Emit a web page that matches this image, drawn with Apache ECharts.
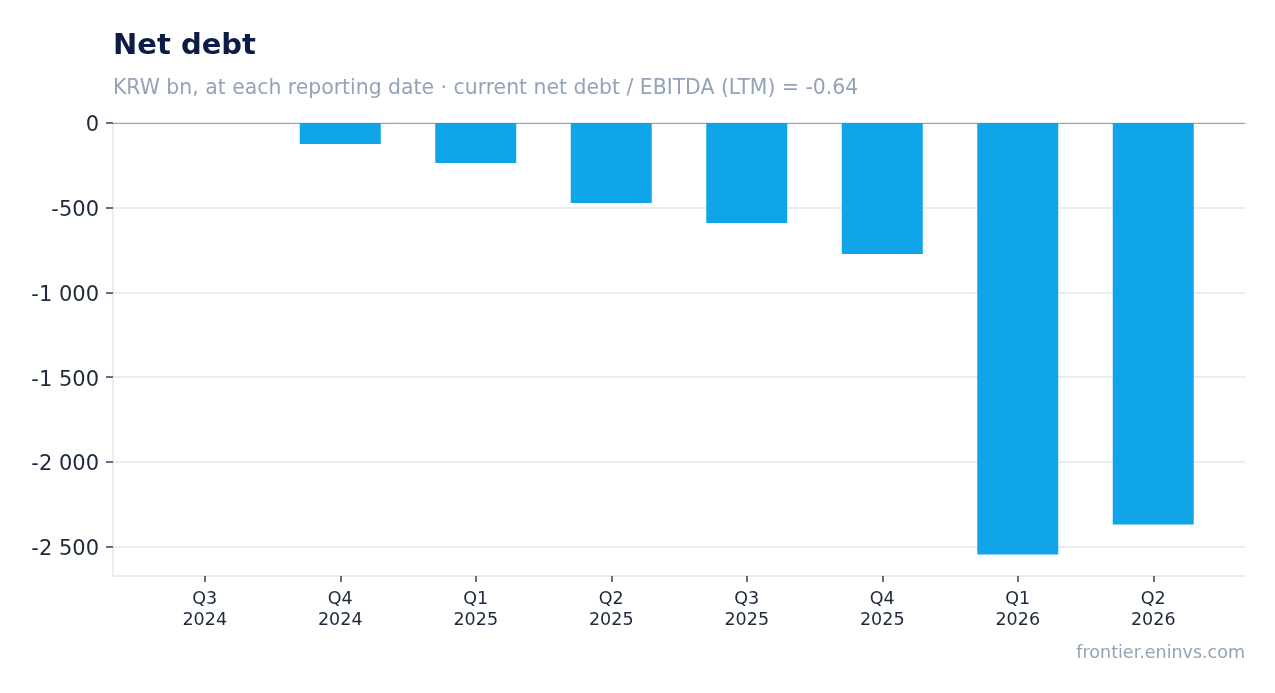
<!DOCTYPE html>
<html>
<head>
<meta charset="utf-8">
<script src="https://cdn.jsdelivr.net/npm/echarts@6/dist/echarts.min.js"></script>
<style>
  html, body { margin: 0; padding: 0; background: #fff; }
  #chart { width: 1275px; height: 693px; }
</style>
</head>
<body>
<div id="chart"></div>
<script>
// quarters and net debt, KRW bn
var quarters = ["Q3\n2024", "Q4\n2024", "Q1\n2025", "Q2\n2025", "Q3\n2025", "Q4\n2025", "Q1\n2026", "Q2\n2026"];
var netDebt = [0, -124, -236, -473, -591, -774, -2547, -2370];
var yTicks = [0, -500, -1000, -1500, -2000, -2500];

var FONT = "DejaVu Sans";

function fmt(v){
    var s = Math.abs(v).toString().replace(/\B(?=(\d{3})+(?!\d))/g, " ");
    return (v < 0 ? "-" : "") + s;
}

var chart = echarts.init(document.getElementById("chart"), null, {renderer: "canvas"});
var yMin = Math.min.apply(null, netDebt) * 1.05;

// grid 0: frame, y axis, split lines; grid 1: bars + category labels (inset)
chart.setOption({
    animation: false,
    backgroundColor: "#ffffff",
    textStyle: {fontFamily: FONT},
    title: [
        {text: "Net debt", left: 108, top: 27,
         textStyle: {fontFamily: FONT, fontSize: 29, fontWeight: "bold", color: "#0d1b45"}},
        {text: "KRW bn, at each reporting date · current net debt / EBITDA (LTM) = -0.64", left: 108, top: 74,
         textStyle: {fontFamily: FONT, fontSize: 20.4, fontWeight: "normal", color: "#94a3b8"}}
    ],
    graphic: [{
        type: "text", right: 30, top: 644,
        style: {text: "frontier.eninvs.com", fontFamily: FONT, fontSize: 17.5, fill: "#94a3b8"}
    }],
    grid: [
        {left: 113, right: 30, top: 123, bottom: 117},
        {left: 137, right: 54, top: 123, bottom: 117}
    ],
    xAxis: [
        {type: "category", gridIndex: 0, position: "bottom", data: quarters,
         axisLine: {show: true, onZero: false, lineStyle: {color: "#e2e8f0", width: 1.5}},
         axisTick: {show: false}, axisLabel: {show: false}, splitLine: {show: false}},
        {type: "category", gridIndex: 0, position: "top", data: quarters,
         axisLine: {show: true, onZero: false, lineStyle: {color: "#94a3b8", width: 1}},
         axisTick: {show: false}, axisLabel: {show: false}, splitLine: {show: false}},
        {type: "category", gridIndex: 1, position: "bottom", data: quarters,
         axisLine: {show: false, onZero: false},
         axisTick: {show: true, alignWithLabel: true, length: 6, lineStyle: {color: "#334155", width: 1.5}},
         axisLabel: {fontFamily: FONT, fontSize: 17.5, color: "#1e293b", lineHeight: 21, margin: 13}}
    ],
    yAxis: [
        {type: "value", gridIndex: 0, min: yMin, max: 0,
         axisLine: {show: true, lineStyle: {color: "#e2e8f0", width: 1.5}},
         axisTick: {show: true, length: 7, customValues: yTicks, lineStyle: {color: "#334155", width: 1.5}},
         axisLabel: {fontFamily: FONT, fontSize: 21, color: "#1e293b", margin: 14, customValues: yTicks,
                     verticalAlign: "top", lineHeight: 6,
                     formatter: function(v){ return fmt(v); }},
         splitLine: {show: true, lineStyle: {color: "#e2e8f0", width: 1.5}}},
        {type: "value", gridIndex: 1, min: yMin, max: 0, show: false}
    ],
    series: [{
        type: "bar",
        xAxisIndex: 2,
        yAxisIndex: 1,
        data: netDebt,
        barWidth: 81,
        itemStyle: {color: "#10a5e8"}
    }]
});
</script>
</body>
</html>
